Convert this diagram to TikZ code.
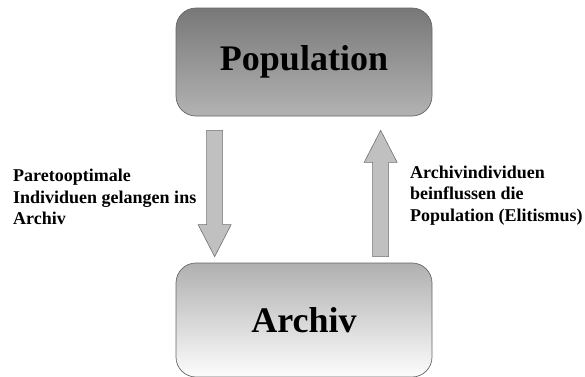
\documentclass[tikz,border=0pt]{standalone}
\usepackage{fontspec}
\setmainfont{Liberation Serif}[BoldFont={Liberation Serif Bold}]
\usetikzlibrary{calc}
\definecolor{boxedge}{HTML}{666666}
\definecolor{arrowfill}{HTML}{C0C0C0}
\definecolor{arrowedge}{HTML}{707070}
\tikzset{
  box/.style={draw=boxedge, line width=0.7pt, rounded corners=20pt,
    minimum width=256pt, inner sep=0pt,
    font=\fontsize{36}{40}\selectfont\bfseries},
  caption/.style={inner sep=0pt, align=left,
    font=\fontsize{18}{21.5}\selectfont\bfseries},
  blockarrow/.style={fill=arrowfill, draw=arrowedge, line width=0.6pt}
}
% vertical block arrow from #1 (tail) to #2 (tip)
\newcommand\fatarrow[2]{%
  \draw[blockarrow] let \p1=(#1), \p2=(#2), \n1={sign(\y2-\y1)} in
    (\x1-8,\y1) -- (\x1+8,\y1) -- (\x1+8,\y2-\n1*32) -- (\x1+16.5,\y2-\n1*32)
    -- (\x1,\y2) -- (\x1-16.5,\y2-\n1*32) -- (\x1-8,\y2-\n1*32) -- cycle;}
\begin{document}
\begin{tikzpicture}[x=1pt,y=-1pt]
  \useasboundingbox (0,0) rectangle (585,376);
  \node[box, minimum height=108pt, top color=black!53, bottom color=black!30]
    (pop) at (304,62) {Population};
  \node[box, minimum height=114pt, top color=black!31, bottom color=black!1]
    (arch) at (304,320) {Archiv};
  % connector ends
  \path (pop.south west) ++(39,14) coordinate (dtail);
  \path (arch.north west) ++(39,-6) coordinate (dtip);
  \path (arch.north west) ++(205,-6) coordinate (utail);
  \path (pop.south west) ++(205,14) coordinate (utip);
  \fatarrow{dtail}{dtip}
  \fatarrow{utail}{utip}
  \node[caption, anchor=north west] (ltext) at (13,169)
    {Paretooptimale\\Individuen gelangen ins\\Archiv};
  \node[caption, anchor=north west] (rtext) at (410,165.5)
    {Archivindividuen\\beinflussen die\\Population (Elitismus)};
\end{tikzpicture}
\end{document}
